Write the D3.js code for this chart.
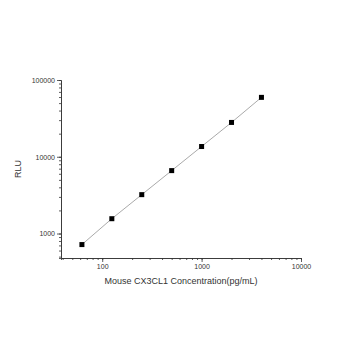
<!DOCTYPE html>
<html>
<head>
<meta charset="utf-8">
<script src="https://cdn.jsdelivr.net/npm/d3@7"></script>
<style>
  body { margin: 0; background: #fff; }
  text { font-family: "Liberation Sans", Arial, sans-serif; }
</style>
</head>
<body>
<svg width="350" height="350"></svg>
<script>
const concentration = [62.5, 125, 250, 500, 1000, 2000, 4000];
const rlu = [718, 1560, 3210, 6600, 13600, 28000, 59400];
const xTicks = [100, 1000, 10000];
const yTicks = [1000, 10000, 100000];

const plot = {left: 61, right: 301, top: 80, bottom: 258};

const svg = d3.select("svg");

const x = d3.scaleLog().domain([38.5, 10000]).range([plot.left, plot.right]);
const y = d3.scaleLog().domain([480, 100000]).range([plot.bottom, plot.top]);

// minor ticks for each decade
function minors(scale) {
    const [a, b] = scale.domain();
    const out = [];
    for (let p = Math.floor(Math.log10(a)); p < Math.ceil(Math.log10(b)); p++) {
        for (let k = 1; k < 10; k++) {
            const v = k * Math.pow(10, p);
            if (v >= a && v <= b) out.push(v);
        }
    }
    return out;
}

function styleAxis(g) {
    g.selectAll("path, line").attr("stroke", "#333").attr("stroke-width", 0.8);
    g.selectAll("text").attr("fill", "#333").style("font-size", "7px");
}

// minor ticks first
svg.append("g")
    .attr("transform", "translate(0," + plot.bottom + ")")
    .call(d3.axisBottom(x).tickValues(minors(x)).tickSize(2).tickFormat(""))
    .call(styleAxis);
svg.append("g")
    .attr("transform", "translate(" + plot.left + ",0)")
    .call(d3.axisLeft(y).tickValues(minors(y)).tickSize(2).tickFormat(""))
    .call(styleAxis);

// major ticks
svg.append("g")
    .attr("transform", "translate(0," + plot.bottom + ")")
    .call(d3.axisBottom(x).tickValues(xTicks).tickSize(4).tickSizeOuter(0).tickPadding(2).tickFormat(d3.format("d")))
    .call(styleAxis);
svg.append("g")
    .attr("transform", "translate(" + plot.left + ",0)")
    .call(d3.axisLeft(y).tickValues(yTicks).tickSize(4).tickSizeOuter(0).tickPadding(2).tickFormat(d3.format("d")))
    .call(styleAxis);

// curve
const line = d3.line()
    .x((d, i) => x(concentration[i]))
    .y(d => y(d));

svg.append("path")
    .datum(rlu)
    .attr("d", line)
    .attr("fill", "none")
    .attr("stroke", "#aaa")
    .attr("stroke-width", 1);

svg.selectAll("rect.pt")
    .data(rlu)
    .enter()
    .append("rect")
        .attr("class", "pt")
        .attr("x", (d, i) => x(concentration[i]) - 2.5)
        .attr("y", d => y(d) - 2.5)
        .attr("width", 5)
        .attr("height", 5)
        .attr("fill", "#000");

// axis titles
svg.append("text")
    .attr("x", (plot.left + plot.right) / 2)
    .attr("y", 284)
    .attr("text-anchor", "middle")
    .style("font-size", "9px")
    .attr("fill", "#333")
    .text("Mouse CX3CL1 Concentration(pg/mL)");

svg.append("text")
    .attr("transform", "translate(21," + ((plot.top + plot.bottom) / 2) + ")rotate(-90)")
    .attr("text-anchor", "middle")
    .style("font-size", "9px")
    .attr("fill", "#333")
    .text("RLU");
</script>
</body>
</html>
